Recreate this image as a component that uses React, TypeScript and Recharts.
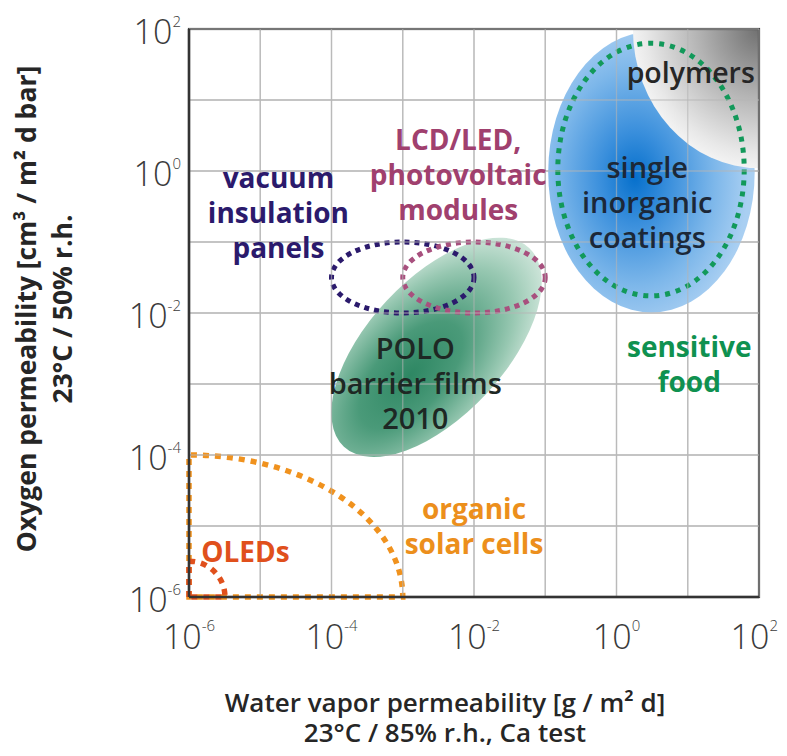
import React from 'react';
import {
  ComposedChart,
  Scatter,
  XAxis,
  YAxis,
  CartesianGrid,
  ReferenceArea,
  ReferenceLine,
  Label,
} from 'recharts';

// every decade gets a grid line, every second one a label
const decadeTicks = [1e-6, 1e-5, 1e-4, 1e-3, 1e-2, 1e-1, 1, 10, 100];
const labelledExponents = [-6, -4, -2, 0, 2];

// filled regions, bounding boxes in data units
const inorganicCoatings = { x1: 0.11, x2: 87, y1: 0.0102, y2: 91 };
const polymers = { x1: 1.7, x2: 100, y1: 1.1, y2: 100 };
// unrotated box of the tilted POLO ellipse (tilt is applied when drawing)
const poloFilms = { x1: 3.7e-5, x2: 0.24, y1: 3.6e-4, y2: 0.03 };

// dotted requirement outlines
const outlineRegions = [
  { key: 'food', kind: 'ellipse', x1: 0.15, x2: 62, y1: 0.0174, y2: 63 },
  { key: 'vacuum', kind: 'ellipse', x1: 1e-4, x2: 1e-2, y1: 1e-2, y2: 0.1 },
  { key: 'lcd', kind: 'ellipse', x1: 1e-3, x2: 0.1, y1: 1e-2, y2: 0.1 },
  { key: 'solar', kind: 'quarter', x1: 1e-6, x2: 1e-3, y1: 1e-6, y2: 1e-4 },
  { key: 'oled', kind: 'quarter', x1: 1e-6, x2: 3.2e-6, y1: 1e-6, y2: 3.2e-6 },
];

// region captions, anchored at the centre of the text block
const regionLabels = [
  { key: 'polymers', x: 11, y: 24, lines: ['polymers'] },
  { key: 'inorganic', x: 2.7, y: 0.36, lines: ['single', 'inorganic', 'coatings'] },
  { key: 'lcd', x: 0.006, y: 0.87, lines: ['LCD/LED,', 'photovoltaic', 'modules'] },
  { key: 'vacuum', x: 1.8e-5, y: 0.26, lines: ['vacuum', 'insulation', 'panels'] },
  { key: 'polo', x: 1.5e-3, y: 1e-3, lines: ['POLO', 'barrier films', '2010'] },
  { key: 'food', x: 10.5, y: 1.9e-3, lines: ['sensitive', 'food'] },
  { key: 'solar', x: 0.01, y: 1e-5, lines: ['organic', 'solar cells'] },
  { key: 'oled', x: 6.2e-6, y: 4.3e-6, lines: ['OLEDs'] },
];

const FONT = '"Open Sans", "DejaVu Sans", sans-serif';

const outlineStyle: Record<string, { color: string; width: number; dash: string }> = {
  food: { color: '#12995a', width: 5, dash: '5 6' },
  vacuum: { color: '#2b1a6c', width: 5, dash: '5 5' },
  lcd: { color: '#a8507e', width: 5, dash: '5 5' },
  solar: { color: '#f0921e', width: 5.5, dash: '6 6' },
  oled: { color: '#e0501c', width: 5.5, dash: '6 6' },
};

const labelStyle: Record<string, { color: string; weight: number; size: number }> = {
  polymers: { color: '#262626', weight: 600, size: 28.5 },
  inorganic: { color: '#1c2838', weight: 600, size: 29 },
  lcd: { color: '#a0406e', weight: 700, size: 28 },
  vacuum: { color: '#2b1a6c', weight: 700, size: 28 },
  polo: { color: '#1e2824', weight: 600, size: 29 },
  food: { color: '#0f9150', weight: 700, size: 28 },
  solar: { color: '#ec8f1c', weight: 700, size: 28 },
  oled: { color: '#e0501c', weight: 700, size: 28 },
};

const XTick = (props: any) => {
  const { x, y, payload } = props;
  const exp = Math.round(Math.log10(payload.value));
  if (!labelledExponents.includes(exp)) return <g />;
  // the last label would run past the page edge, so pull it in a little
  const isLast = exp === labelledExponents[labelledExponents.length - 1];
  return (
    <text
      x={isLast ? x + 19 : x}
      y={y + 52}
      textAnchor={isLast ? 'end' : 'middle'}
      fill="#3a3a3a"
      fontFamily={FONT}
      fontSize={34}
      fontWeight={300}
    >
      10
      <tspan dy={-18} fontSize={15}>{exp}</tspan>
    </text>
  );
};

const YTick = (props: any) => {
  const { x, y, payload } = props;
  const exp = Math.round(Math.log10(payload.value));
  if (!labelledExponents.includes(exp)) return <g />;
  return (
    <text x={x - 8} y={y + 15} textAnchor="end" fill="#3a3a3a" fontFamily={FONT} fontSize={34} fontWeight={300}>
      10
      <tspan dy={-17} fontSize={15}>{exp}</tspan>
    </text>
  );
};

const InorganicShape = (p: any) => {
  const { x, y, width, height } = p;
  return (
    <g>
      <defs>
        <radialGradient id="gradBlue" cx="0.42" cy="0.52" r="0.55" fx="0.42" fy="0.52">
          <stop offset="0" stopColor="#0670cc" />
          <stop offset="0.3" stopColor="#3a8fdc" />
          <stop offset="0.7" stopColor="#7db7ea" />
          <stop offset="1" stopColor="#a9cff2" />
        </radialGradient>
      </defs>
      <ellipse cx={x + width / 2} cy={y + height / 2} rx={width / 2} ry={height / 2} fill="url(#gradBlue)" />
    </g>
  );
};

const PolymerShape = (p: any) => {
  const { x, y, width, height } = p;
  const right = x + width;
  const bottom = y + height;
  return (
    <g>
      <defs>
        <radialGradient id="gradGrey" cx="1" cy="0" r="1.05" fx="1" fy="0">
          <stop offset="0" stopColor="#707070" />
          <stop offset="0.45" stopColor="#b2b2b2" />
          <stop offset="0.85" stopColor="#e8e8e8" />
          <stop offset="1" stopColor="#f8f8f8" />
        </radialGradient>
      </defs>
      <path d={`M${x},${y} A${width},${height} 0 0 0 ${right},${bottom} L${right},${y} Z`} fill="url(#gradGrey)" />
    </g>
  );
};

const PoloShape = (p: any) => {
  const { x, y, width, height } = p;
  const cx = x + width / 2;
  const cy = y + height / 2;
  return (
    <g>
      <defs>
        <radialGradient id="gradGreen" cx="0.36" cy="0.5" r="0.7" fx="0.36" fy="0.5">
          <stop offset="0" stopColor="#2e8763" />
          <stop offset="0.35" stopColor="#4a9a79" />
          <stop offset="0.7" stopColor="#98c8b2" />
          <stop offset="1" stopColor="#e4f1ea" />
        </radialGradient>
      </defs>
      <ellipse
        cx={cx}
        cy={cy}
        rx={width / 2}
        ry={height / 2}
        fill="url(#gradGreen)"
        transform={`rotate(-47 ${cx} ${cy})`}
      />
    </g>
  );
};

const FrameShape = (p: any) => {
  const { x, y, width, height } = p;
  return <rect x={x} y={y} width={width} height={height} fill="none" stroke="#444" strokeWidth={2.2} />;
};

const makeOutline = (key: string, kind: string) => (p: any) => {
  const { x, y, width, height } = p;
  const s = outlineStyle[key];
  const common = { fill: 'none', stroke: s.color, strokeWidth: s.width, strokeDasharray: s.dash };
  if (kind === 'ellipse') {
    return <ellipse cx={x + width / 2} cy={y + height / 2} rx={width / 2} ry={height / 2} {...common} />;
  }
  const bottom = y + height;
  return <path d={`M${x},${bottom} L${x},${y} A${width},${height} 0 0 1 ${x + width},${bottom} Z`} {...common} />;
};

const LabelShape = (p: any) => {
  const { cx, cy, payload } = p;
  const s = labelStyle[payload.key];
  const lineGap = 35;
  const first = cy - ((payload.lines.length - 1) * lineGap) / 2 + s.size * 0.36;
  return (
    <text textAnchor="middle" fill={s.color} fontFamily={FONT} fontSize={s.size} fontWeight={s.weight}>
      {payload.lines.map((t: string, i: number) => (
        <tspan key={i} x={cx} y={first + i * lineGap}>
          {t}
        </tspan>
      ))}
    </text>
  );
};

const XTitle = (props: any) => {
  const { viewBox } = props;
  const cx = viewBox.x + viewBox.width / 2 - 29;
  return (
    <text textAnchor="middle" fill="#262626" fontFamily={FONT} fontSize={26} fontWeight={600}>
      <tspan x={cx} y={viewBox.y + 115}>Water vapor permeability [g / m² d]</tspan>
      <tspan x={cx} y={viewBox.y + 145}>23°C / 85% r.h., Ca test</tspan>
    </text>
  );
};

const YTitle = (props: any) => {
  const { viewBox } = props;
  const cy = viewBox.y + viewBox.height / 2 - 4;
  return (
    <g fill="#262626" fontFamily={FONT} fontSize={26.5} fontWeight={700}>
      <text transform={`translate(${viewBox.x + 28},${cy}) rotate(-90)`} textAnchor="middle">
        Oxygen permeability [cm³ / m² d bar]
      </text>
      <text transform={`translate(${viewBox.x + 64},${cy}) rotate(-90)`} textAnchor="middle">
        23°C / 50% r.h.
      </text>
    </g>
  );
};

export default function App() {
  return (
    <ComposedChart width={771} height={740} margin={{ top: 21, right: 20, bottom: 0, left: 0 }}>
      <XAxis
        dataKey="x"
        type="number"
        scale="log"
        domain={[1e-6, 100]}
        ticks={decadeTicks}
        interval={0}
        allowDataOverflow
        tick={<XTick />}
        tickLine={false}
        tickSize={0}
        tickMargin={0}
        axisLine={{ stroke: '#333', strokeWidth: 2.5 }}
        height={151}
      >
        <Label content={<XTitle />} />
      </XAxis>
      <YAxis
        dataKey="y"
        type="number"
        scale="log"
        domain={[1e-6, 100]}
        ticks={decadeTicks}
        interval={0}
        allowDataOverflow
        tick={<YTick />}
        tickLine={false}
        tickSize={0}
        tickMargin={0}
        axisLine={{ stroke: '#333', strokeWidth: 2.5 }}
        width={181}
      >
        <Label content={<YTitle />} />
      </YAxis>

      <CartesianGrid stroke="#c2c2c2" strokeWidth={1.3} />

      <ReferenceArea {...inorganicCoatings} shape={InorganicShape} />
      <ReferenceArea {...polymers} shape={PolymerShape} />
      <ReferenceArea {...poloFilms} shape={PoloShape} />

      {decadeTicks.map((t) => (
        <ReferenceLine key={`gx${t}`} x={t} stroke="#b4b4b4" strokeOpacity={0.6} strokeWidth={1.3} />
      ))}
      {decadeTicks.map((t) => (
        <ReferenceLine key={`gy${t}`} y={t} stroke="#b4b4b4" strokeOpacity={0.6} strokeWidth={1.3} />
      ))}

      <ReferenceArea x1={1e-6} x2={100} y1={1e-6} y2={100} shape={FrameShape} />

      {outlineRegions.map((r) => (
        <ReferenceArea
          key={r.key}
          x1={r.x1}
          x2={r.x2}
          y1={r.y1}
          y2={r.y2}
          shape={makeOutline(r.key, r.kind)}
        />
      ))}

      <Scatter data={regionLabels} dataKey="y" shape={LabelShape} isAnimationActive={false} />
    </ComposedChart>
  );
}
